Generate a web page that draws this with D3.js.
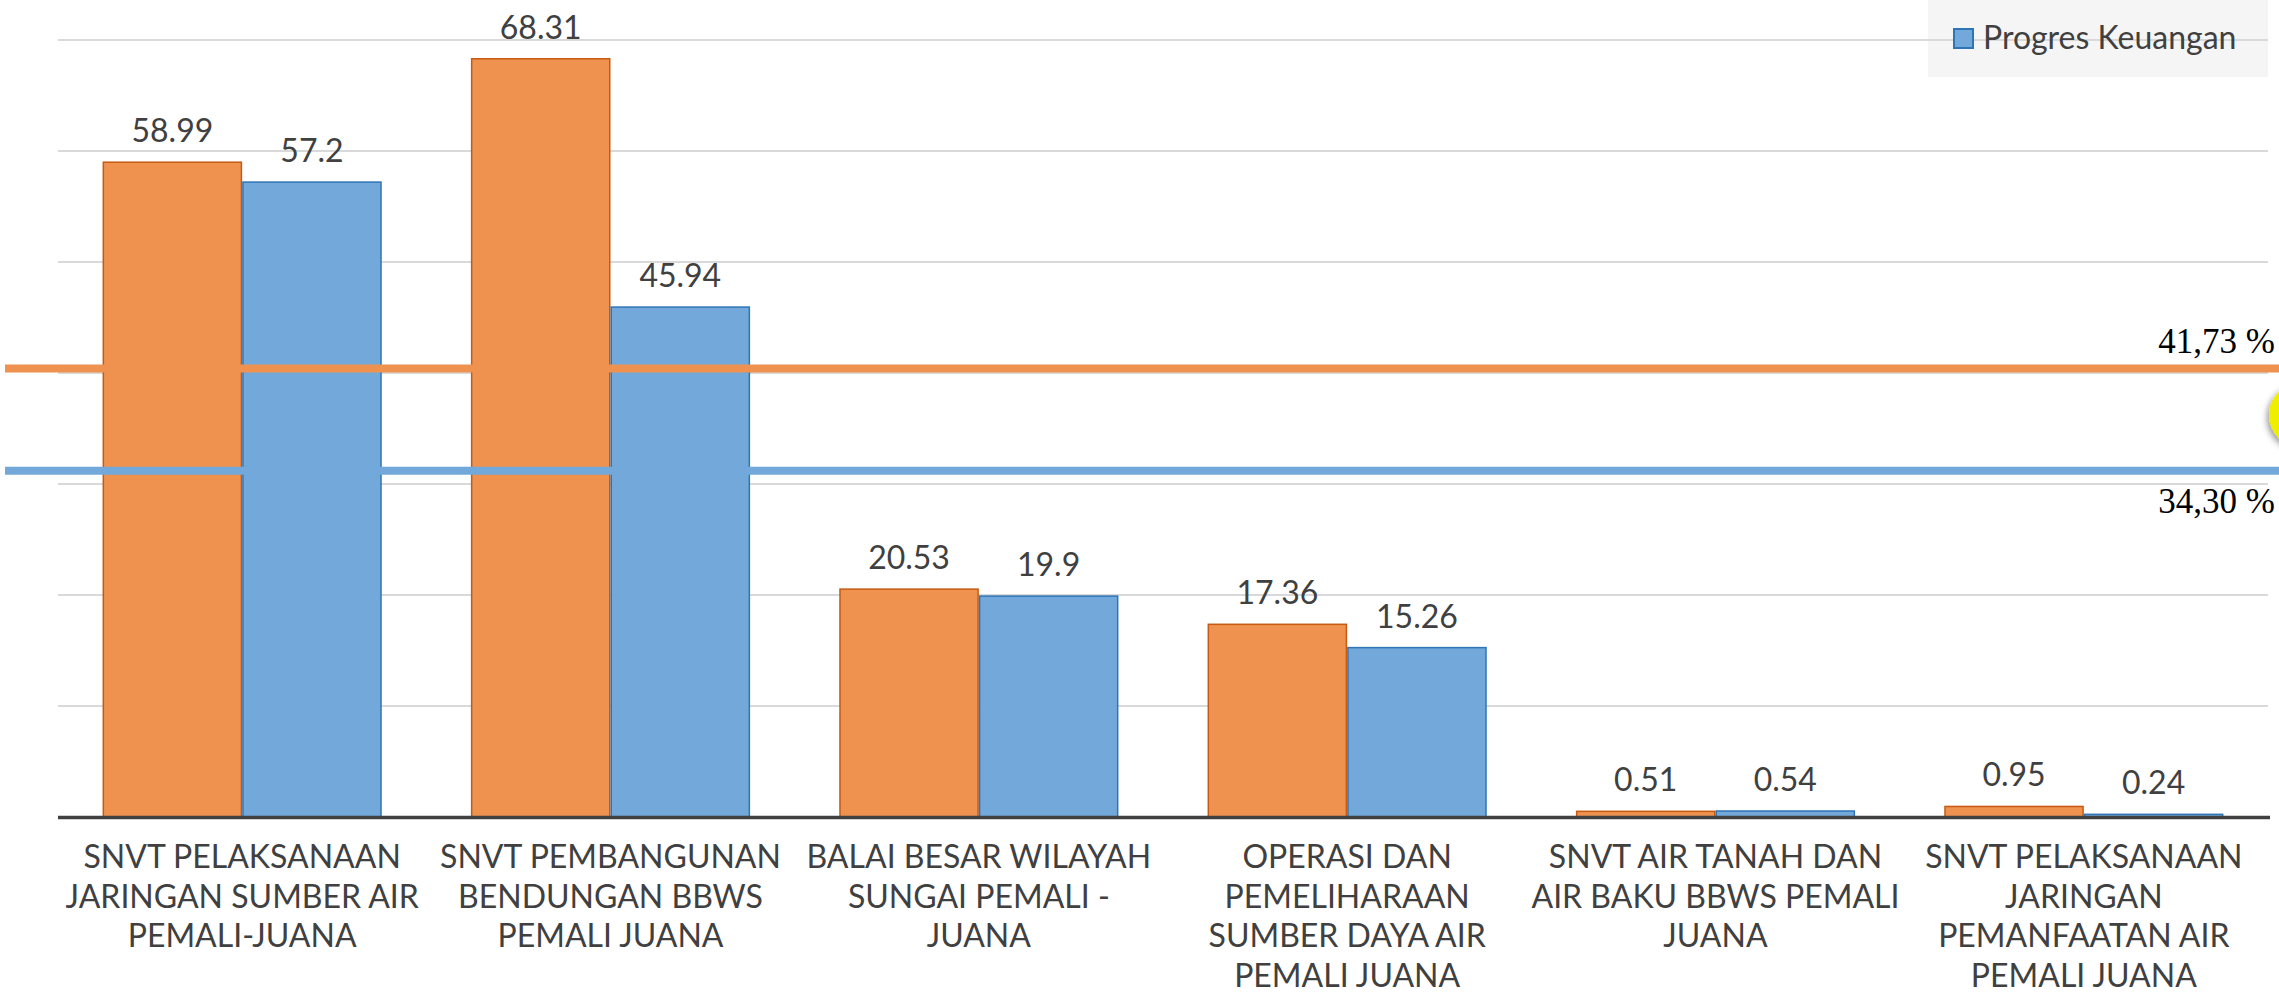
<!DOCTYPE html>
<html>
<head>
<meta charset="utf-8">
<script src="https://cdn.jsdelivr.net/npm/d3@7"></script>
<style>
  html, body { margin: 0; padding: 0; background: #ffffff; }
  svg { display: block; }
</style>
</head>
<body>
<svg id="chart" width="2279" height="995"></svg>
<script>
// ---------- data ----------
const categoryLines = [
  ["SNVT PELAKSANAAN", "JARINGAN SUMBER AIR", "PEMALI-JUANA"],
  ["SNVT PEMBANGUNAN", "BENDUNGAN BBWS", "PEMALI JUANA"],
  ["BALAI BESAR WILAYAH", "SUNGAI PEMALI -", "JUANA"],
  ["OPERASI DAN", "PEMELIHARAAN", "SUMBER DAYA AIR", "PEMALI JUANA"],
  ["SNVT AIR TANAH DAN", "AIR BAKU BBWS PEMALI", "JUANA"],
  ["SNVT PELAKSANAAN", "JARINGAN", "PEMANFAATAN AIR", "PEMALI JUANA"]
];
const categories = categoryLines.map(l => l.join(" "));
const seriesNames = ["Progres Fisik", "Progres Keuangan"];
const progresFisik    = [58.99, 68.31, 20.53, 17.36, 0.51, 0.95];
const progresKeuangan = [57.2, 45.94, 19.9, 15.26, 0.54, 0.24];
const fisikLabels     = ["58.99", "68.31", "20.53", "17.36", "0.51", "0.95"];
const keuanganLabels  = ["57.2", "45.94", "19.9", "15.26", "0.54", "0.24"];
const yTicks = [0, 10, 20, 30, 40, 50, 60, 70];
const legendItems = ["Progres Keuangan"];
// reference (average) lines: label text, and level as drawn in the picture
const refLabels = ["41,73 %", "34,30 %"];
const refLevels = [40.4, 31.2];

// ---------- layout ----------
(function () {
const svg = d3.select("#chart");
const mLeft = 58, mRight = 2268, mTop = 40, mBottom = 817;
const fontMain = "Lato, 'Open Sans', 'DejaVu Sans', sans-serif";
const colors = {
  fisikFill: "#EF914F", fisikStroke: "#C65A11",
  keuFill: "#72A8DA", keuStroke: "#2E75B6"
};

const x0 = d3.scaleBand().domain(categories).range([mLeft, mRight])
  .paddingInner(0.242).paddingOuter(0.121);
const x1 = d3.scaleBand().domain(seriesNames).range([0, x0.bandwidth()]);
const y = d3.scaleLinear().domain([0, 70]).range([mBottom, mTop]);

// legend background
svg.append("rect").attr("x", 1928).attr("y", 0).attr("width", 340).attr("height", 77)
  .attr("fill", "#f5f5f5");

// gridlines
svg.append("g").selectAll("line").data(yTicks.filter(t => t > 0)).join("line")
  .attr("x1", mLeft).attr("x2", mRight)
  .attr("y1", d => y(d)).attr("y2", d => y(d))
  .attr("stroke", "#d9d9d9").attr("stroke-width", 2);

// bars
const data = categories.map((c, i) => ({
  cat: c,
  vals: [
    { s: seriesNames[0], v: progresFisik[i], label: fisikLabels[i], fill: colors.fisikFill, stroke: colors.fisikStroke },
    { s: seriesNames[1], v: progresKeuangan[i], label: keuanganLabels[i], fill: colors.keuFill, stroke: colors.keuStroke }
  ]
}));

const groups = svg.append("g").selectAll("g").data(data).join("g")
  .attr("transform", d => `translate(${x0(d.cat)},0)`);

groups.selectAll("rect").data(d => d.vals).join("rect")
  .attr("x", d => x1(d.s) + 0.75)
  .attr("y", d => y(d.v))
  .attr("width", x1.bandwidth() - 1.5)
  .attr("height", d => y(0) - y(d.v))
  .attr("fill", d => d.fill)
  .attr("stroke", d => d.stroke)
  .attr("stroke-width", 1.5);

groups.selectAll("text.val").data(d => d.vals).join("text")
  .attr("class", "val")
  .attr("x", d => x1(d.s) + x1.bandwidth() / 2)
  .attr("y", d => y(d.v) - 20)
  .attr("text-anchor", "middle")
  .attr("font-family", fontMain)
  .attr("font-size", 32)
  .attr("fill", "#404040")
  .text(d => d.label);

// baseline axis
svg.append("line").attr("x1", mLeft).attr("x2", mRight + 2)
  .attr("y1", y(0) + 0.5).attr("y2", y(0) + 0.5)
  .attr("stroke", "#404040").attr("stroke-width", 3.5);

// category labels
const catG = svg.append("g").selectAll("text").data(categories).join("text")
  .attr("x", d => x0(d) + x0.bandwidth() / 2)
  .attr("y", 868)
  .attr("text-anchor", "middle")
  .attr("font-family", fontMain)
  .attr("font-size", 32)
  .attr("fill", "#404040");
catG.each(function (d, i) {
  const t = d3.select(this);
  categoryLines[i].forEach((line, j) => {
    t.append("tspan").attr("x", x0(d) + x0.bandwidth() / 2)
      .attr("dy", j === 0 ? 0 : 39.5).text(line);
  });
});

// reference lines
const refColors = [colors.fisikFill, colors.keuFill];
svg.append("g").selectAll("line").data(refLevels).join("line")
  .attr("x1", 5).attr("x2", 2279)
  .attr("y1", d => y(d)).attr("y2", d => y(d))
  .attr("stroke", (d, i) => refColors[i]).attr("stroke-width", 8);

svg.append("g").selectAll("text").data(refLabels).join("text")
  .attr("x", 2275)
  .attr("y", (d, i) => i === 0 ? y(refLevels[i]) - 16 : y(refLevels[i]) + 42)
  .attr("text-anchor", "end")
  .attr("font-family", "'Liberation Serif', 'Times New Roman', serif")
  .attr("font-size", 35)
  .attr("fill", "#000")
  .text(d => d);

// decorative yellow ring at right edge
const defs = svg.append("defs");
const f = defs.append("filter").attr("id", "sh").attr("x", "-50%").attr("y", "-50%").attr("width", "200%").attr("height", "200%");
f.append("feDropShadow").attr("dx", -2).attr("dy", 3).attr("stdDeviation", 3).attr("flood-color", "#000").attr("flood-opacity", 0.4);
svg.append("circle").attr("cx", 2301).attr("cy", 415).attr("r", 27)
  .attr("fill", "none").attr("stroke", "#f0ee00").attr("stroke-width", 10)
  .attr("filter", "url(#sh)");

// legend content
const legendG = svg.append("g");
legendG.selectAll("rect").data(legendItems).join("rect")
  .attr("x", 1954).attr("y", 29).attr("width", 19).attr("height", 19)
  .attr("fill", colors.keuFill).attr("stroke", colors.keuStroke).attr("stroke-width", 2);
legendG.selectAll("text").data(legendItems).join("text")
  .attr("x", 1983).attr("y", 49)
  .attr("font-family", fontMain).attr("font-size", 32).attr("fill", "#404040")
  .text(d => d);
})();
</script>
</body>
</html>
